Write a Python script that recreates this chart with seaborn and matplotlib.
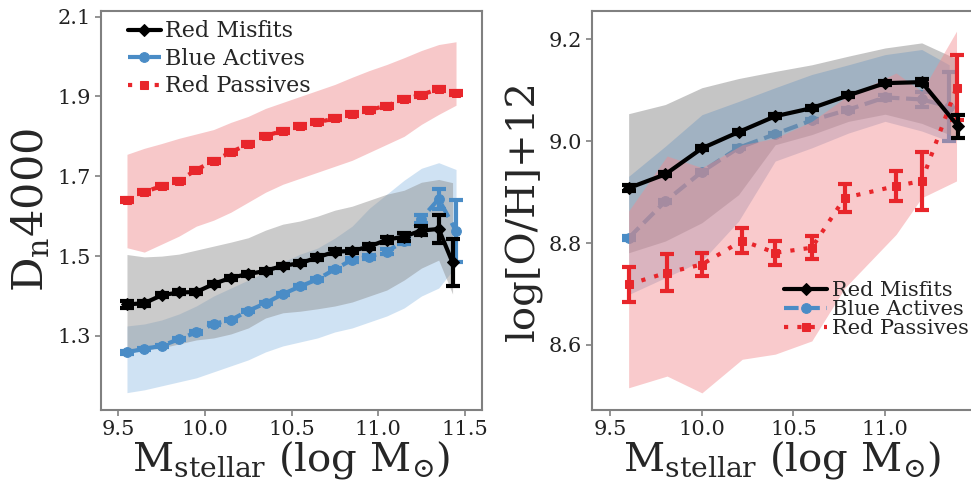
import numpy as np
import pandas as pd
import matplotlib
matplotlib.use("Agg")
import matplotlib.pyplot as plt
import seaborn as sns

sns.set_style("ticks")
plt.rcParams['font.family'] = ['DejaVu Serif']
plt.rcParams['mathtext.fontset'] = 'dejavuserif'

# ---------------- Left panel: Dn4000 ----------------
mass_bins = [9.55, 9.65, 9.75, 9.85, 9.95, 10.05, 10.15, 10.25, 10.35, 10.45,
             10.55, 10.65, 10.75, 10.85, 10.95, 11.05, 11.15, 11.25, 11.35, 11.43]
mass_bins_blue = [9.55, 9.65, 9.75, 9.85, 9.95, 10.05, 10.15, 10.25, 10.35, 10.45,
                  10.55, 10.65, 10.75, 10.85, 10.95, 11.05, 11.15, 11.25, 11.35, 11.45]
mass_bins_red = mass_bins_blue

dn_misfit = [1.379, 1.382, 1.402, 1.409, 1.410, 1.430, 1.446, 1.455, 1.463, 1.476,
             1.482, 1.497, 1.511, 1.513, 1.524, 1.541, 1.549, 1.564, 1.568, 1.484]
dn_misfit_err = [0.008, 0.006, 0.005, 0.005, 0.005, 0.005, 0.005, 0.005, 0.005, 0.005,
                 0.005, 0.006, 0.006, 0.006, 0.007, 0.008, 0.010, 0.012, 0.035, 0.058]
dn_misfit_hi = [1.504, 1.498, 1.500, 1.505, 1.515, 1.525, 1.535, 1.546, 1.565, 1.580,
                1.588, 1.600, 1.615, 1.625, 1.640, 1.655, 1.665, 1.685, 1.692, 1.684]
dn_misfit_lo = [1.262, 1.265, 1.270, 1.280, 1.290, 1.295, 1.305, 1.320, 1.345, 1.358,
                1.362, 1.368, 1.375, 1.385, 1.400, 1.415, 1.440, 1.470, 1.490, 1.405]

dn_blue = [1.259, 1.268, 1.275, 1.292, 1.309, 1.330, 1.340, 1.363, 1.382, 1.405,
           1.424, 1.442, 1.467, 1.491, 1.499, 1.511, 1.538, 1.594, 1.643, 1.563]
dn_blue_err = [0.003, 0.003, 0.003, 0.003, 0.003, 0.003, 0.003, 0.003, 0.003, 0.003,
               0.003, 0.004, 0.004, 0.005, 0.005, 0.006, 0.008, 0.010, 0.025, 0.078]
dn_blue_hi = [1.325, 1.330, 1.340, 1.355, 1.375, 1.400, 1.420, 1.440, 1.460, 1.485,
              1.505, 1.520, 1.545, 1.575, 1.620, 1.655, 1.690, 1.720, 1.734, 1.717]
dn_blue_lo = [1.158, 1.165, 1.175, 1.185, 1.195, 1.210, 1.225, 1.240, 1.260, 1.275,
              1.285, 1.295, 1.310, 1.320, 1.335, 1.350, 1.370, 1.400, 1.420, 1.475]

dn_red = [1.641, 1.660, 1.676, 1.689, 1.716, 1.739, 1.760, 1.781, 1.801, 1.814,
          1.827, 1.835, 1.845, 1.856, 1.866, 1.877, 1.893, 1.904, 1.919, 1.909]
dn_red_err = [0.005] * 20
dn_red_hi = [1.755, 1.770, 1.782, 1.795, 1.806, 1.817, 1.835, 1.850, 1.870, 1.885,
             1.900, 1.915, 1.930, 1.948, 1.965, 1.980, 1.997, 2.015, 2.030, 2.037]
dn_red_lo = [1.521, 1.510, 1.530, 1.550, 1.575, 1.590, 1.610, 1.635, 1.660, 1.680,
             1.695, 1.710, 1.725, 1.740, 1.760, 1.780, 1.800, 1.830, 1.855, 1.878]

# ---------------- Right panel: metallicity ----------------
oh_mass_misfit = [9.6, 9.8, 10.0, 10.2, 10.4, 10.6, 10.8, 11.0, 11.2, 11.4]
oh_misfit = [8.908, 8.935, 8.986, 9.018, 9.049, 9.065, 9.090, 9.114, 9.116, 9.029]
oh_misfit_err = [0.006, 0.004, 0.004, 0.004, 0.004, 0.004, 0.004, 0.004, 0.006, 0.022]
oh_misfit_hi = [9.054, 9.072, 9.105, 9.123, 9.137, 9.150, 9.167, 9.183, 9.193, 9.160]
oh_misfit_lo = [8.781, 8.804, 8.840, 8.895, 8.993, 9.013, 9.039, 9.053, 9.035, 9.006]

oh_mass_blue = [9.6, 9.8, 10.0, 10.2, 10.4, 10.6, 10.8, 11.0, 11.2, 11.35]
oh_blue = [8.810, 8.882, 8.940, 8.987, 9.014, 9.041, 9.062, 9.086, 9.082, 9.068]
oh_blue_err = [0.003, 0.003, 0.003, 0.003, 0.003, 0.003, 0.004, 0.005, 0.014, 0.067]
oh_blue_hi = [8.931, 8.990, 9.052, 9.078, 9.105, 9.131, 9.150, 9.170, 9.180, 9.150]
oh_blue_lo = [8.699, 8.732, 8.765, 8.843, 8.961, 8.987, 9.016, 9.039, 9.020, 9.000]

oh_mass_red = [9.6, 9.81, 10.0, 10.22, 10.4, 10.6, 10.78, 11.06, 11.2, 11.39]
oh_red = [8.719, 8.742, 8.758, 8.805, 8.781, 8.791, 8.889, 8.912, 8.922, 9.105]
oh_red_err = [0.034, 0.036, 0.023, 0.025, 0.023, 0.022, 0.027, 0.029, 0.057, 0.064]
oh_red_hi = [8.863, 8.971, 8.948, 8.993, 9.006, 9.039, 9.085, 9.134, 9.098, 9.216]
oh_red_lo = [8.516, 8.539, 8.506, 8.572, 8.582, 8.608, 8.712, 8.817, 8.889, 8.922]

labels = ["Red Misfits", "Blue Actives", "Red Passives"]
c_black = "#000000"
c_blue = "#4a8cc6"
c_red = "#e8262b"

fig = plt.figure(figsize=(9.71, 4.80), dpi=100)
axL = fig.add_axes([101 / 971, 1 - 410 / 480, 381 / 971, 399 / 480])
axR = fig.add_axes([592 / 971, 1 - 410 / 480, 381 / 971, 399 / 480])


def draw_series(ax, x, y, err, color, marker, ls, label, ms, z):
    df = pd.DataFrame({"x": x, "y": y})
    sns.lineplot(data=df, x="x", y="y", ax=ax, color=color, marker=marker,
                 linestyle=ls, lw=3, markersize=ms, markeredgecolor=color,
                 label=label, zorder=z, sort=False)
    ax.errorbar(x, y, yerr=err, fmt="none", ecolor=color, elinewidth=3,
                capsize=5, capthick=3, zorder=z)


# Left panel: bands beneath lines
axL.fill_between(mass_bins_red, dn_red_lo, dn_red_hi, color="#f29b9e", alpha=0.55, lw=0, zorder=1)
axL.fill_between(mass_bins_blue, dn_blue_lo, dn_blue_hi, color="#a9cbea", alpha=0.55, lw=0, zorder=1)
axL.fill_between(mass_bins, dn_misfit_lo, dn_misfit_hi, color="#8c8c8c", alpha=0.45, lw=0, zorder=1)
draw_series(axL, mass_bins, dn_misfit, dn_misfit_err, c_black, "D", "-", labels[0], 6, 4)
draw_series(axL, mass_bins_blue, dn_blue, dn_blue_err, c_blue, "o", (0, (3.5, 1.6)), labels[1], 7, 3)
draw_series(axL, mass_bins_red, dn_red, dn_red_err, c_red, "s", (0, (1, 2.2)), labels[2], 6, 3)

xlab = r"M$_{\rm stellar}$ (log M$_{\odot}$)"

axL.set_xlim(9.4, 11.6)
axL.set_ylim(1.1145, 2.114)
axL.set_xticks([9.5, 10.0, 10.5, 11.0, 11.5])
axL.set_yticks([1.3, 1.5, 1.7, 1.9, 2.1])
axL.set_xlabel(xlab, fontsize=29, labelpad=0)
axL.set_ylabel(r"D$_{\rm n}$4000", fontsize=31, labelpad=4)
axL.legend(loc="upper left", frameon=False, fontsize=16, handlelength=1.5,
           handletextpad=0.2, labelspacing=0.25, borderaxespad=0.2,
           bbox_to_anchor=(0.035, 1.01))

# Right panel
draw_series(axR, oh_mass_blue, oh_blue, oh_blue_err, c_blue, "o", (0, (3.5, 1.6)), labels[1], 7, 1)
axR.fill_between(oh_mass_misfit, oh_misfit_lo, oh_misfit_hi, color="#8c8c8c", alpha=0.5, lw=0, zorder=2)
axR.fill_between(oh_mass_blue, oh_blue_lo, oh_blue_hi, color="#5f8fbf", alpha=0.35, lw=0, zorder=2)
axR.fill_between(oh_mass_red, oh_red_lo, oh_red_hi, color="#f28a8e", alpha=0.45, lw=0, zorder=2)
draw_series(axR, oh_mass_misfit, oh_misfit, oh_misfit_err, c_black, "D", "-", labels[0], 6, 4)
draw_series(axR, oh_mass_red, oh_red, oh_red_err, c_red, "s", (0, (1, 2.2)), labels[2], 6, 3)

axR.set_xlim(9.4, 11.48)
axR.set_ylim(8.4724, 9.2556)
axR.set_xticks([9.5, 10.0, 10.5, 11.0])
axR.set_yticks([8.6, 8.8, 9.0, 9.2])
axR.set_xlabel(xlab, fontsize=29, labelpad=0)
axR.set_ylabel(r"log[O/H]+12", fontsize=29, labelpad=4)
h, l = axR.get_legend_handles_labels()
order = [l.index(s) for s in labels]
axR.legend([h[i] for i in order], [l[i] for i in order], loc="lower right",
           frameon=False, fontsize=15, handlelength=2.1, handletextpad=0.2,
           labelspacing=0.0, borderaxespad=0.0, bbox_to_anchor=(1.01, 0.16))

for ax in (axL, axR):
    for sp in ax.spines.values():
        sp.set_color("#808080")
        sp.set_linewidth(1.5)
    ax.tick_params(axis="both", labelsize=15, length=4, width=1.2, color="#808080",
                   pad=3, labelcolor="#222222")

fig.savefig("out.png", dpi=100)
